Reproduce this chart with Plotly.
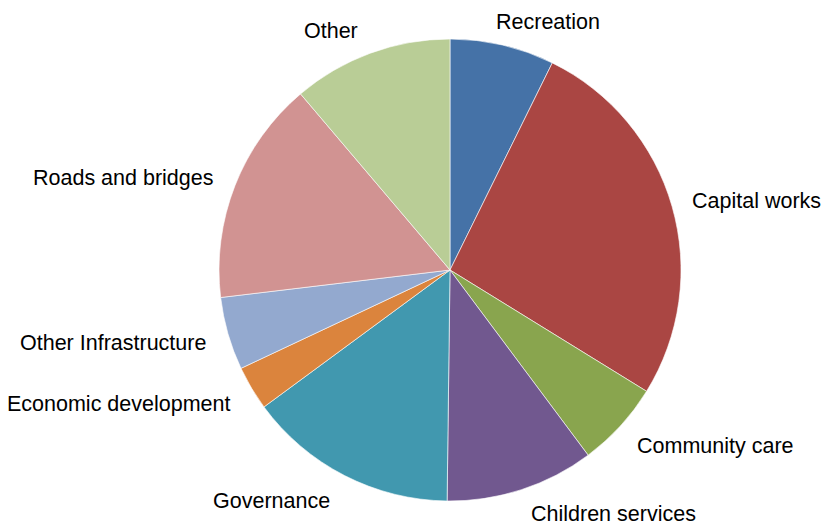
import math
import plotly.graph_objects as go

# Share of spending by category (percent), clockwise from 12 o'clock
categories = ["Recreation", "Capital works", "Community care", "Children services",
              "Governance", "Economic development", "Other Infrastructure",
              "Roads and bridges", "Other"]
values = [7.3, 26.5, 6.0, 10.4, 14.7, 3.1, 5.1, 15.7, 11.2]
colors = ["#4572A7", "#AA4643", "#89A54E", "#71588F", "#4198AF",
          "#DB843D", "#93A9CF", "#D19392", "#B9CD96"]

W, H = 822, 526
cx, cy, R = 450, 270, 231  # pie centre and radius in pixels

fig = go.Figure(go.Pie(
    labels=categories,
    values=values,
    sort=False,
    direction="clockwise",
    rotation=0,
    textinfo="none",
    hoverinfo="label+percent",
    marker=dict(colors=colors, line=dict(color="white", width=0.6)),
    domain=dict(x=[(cx - R) / W, (cx + R) / W],
                y=[(H - cy - R) / H, (H - cy + R) / H]),
    showlegend=False,
))

# Category labels placed just outside each slice at its mid-angle
total = sum(values)
annotations = []
cum = 0.0
label_r = R + 16
for name, v in zip(categories, values):
    mid = (cum + v / 2) / total * 2 * math.pi
    cum += v
    s, c = math.sin(mid), math.cos(mid)
    px = cx + s * label_r
    py = cy - c * label_r
    # labels close to the top on the right sit slightly further left
    dx = (3 - 40 * max(0.0, c - 0.6)) if s > 0 else -5
    # vertical centre of the label, kept inside the page at the bottom
    ty = min(py - c * 10 + 2, H - 12)
    annotations.append(dict(
        x=px / W, y=1 - ty / H, xref="paper", yref="paper",
        text=name, showarrow=False,
        xanchor="left" if s > 0 else "right",
        yanchor="middle",
        xshift=dx,
        font=dict(family="Liberation Sans, Arial, sans-serif", size=21.5, color="#000000"),
    ))

fig.update_layout(
    width=W, height=H,
    margin=dict(l=0, r=0, t=0, b=0),
    paper_bgcolor="white",
    plot_bgcolor="white",
    annotations=annotations,
)

fig.write_html("out.html")
